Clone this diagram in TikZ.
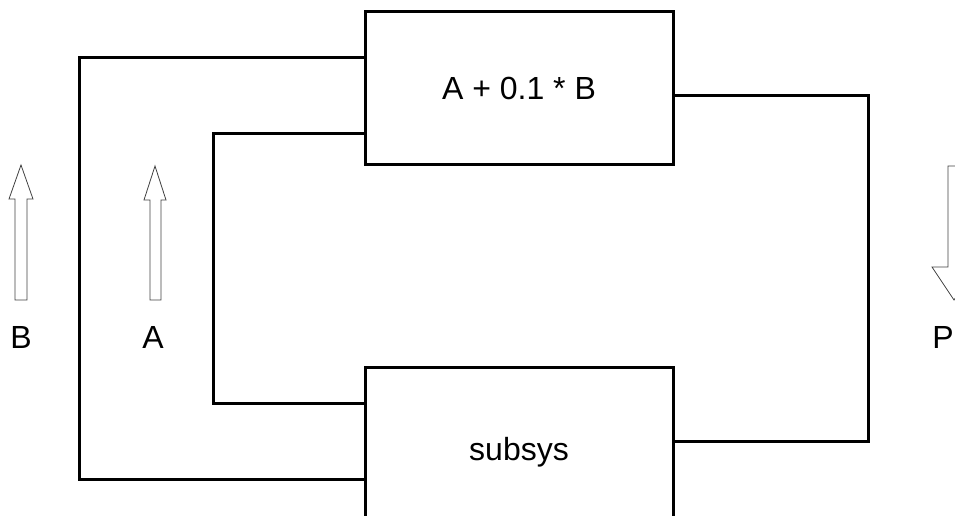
\documentclass[tikz,border=0pt]{standalone}
\usepackage{fontspec}
\setmainfont{Liberation Sans}
\usepackage{tikz}

\begin{document}
\begin{tikzpicture}[x=1pt, y=-1pt,
    block/.style={draw, line width=3pt, minimum width=308pt, outer sep=0pt, inner sep=0pt},
    wire/.style={line width=3pt},
    hollow/.style={draw=black!75, line width=0.8pt},
    every node/.style={font=\fontsize{32}{36}\selectfont}]
  \useasboundingbox (0,0) rectangle (955,515);
  \node (top) [block, minimum height=153pt] at (519,88) {A + 0.1 * B};
  \node (sub) [block, minimum height=170pt] at (519,452) {subsys};
  % feedback wires
  \draw[wire] ([yshift=31pt]top.west) -- ++(-286,0) |- ([yshift=-27pt]sub.west);
  \draw[wire] ([yshift=-45pt]top.west) -- ++(-152,0) |- ([yshift=49pt]sub.west);
  \draw[wire] ([yshift=-7pt]top.east) -- ++(195,0) |- ([yshift=11pt]sub.east);
  % hollow arrows
  \draw[hollow] (15,300) -- (15,199) -- (9,199) -- (21,165) -- (33,199) -- (27,199) -- (27,300) -- cycle;
  \draw[hollow] (150,300) -- (150,200) -- (144,200) -- (155,166) -- (166,200) -- (161,200) -- (161,300) -- cycle;
  \draw[hollow] (948,166) -- (948,267) -- (932,267) -- (954,300) -- (976,267) -- (960,267) -- (960,166) -- cycle;
  \node (labB) at (21,337) {B};
  \node (labA) at (153,337) {A};
  \node (labP) at (943,337) {P};
\end{tikzpicture}
\end{document}
